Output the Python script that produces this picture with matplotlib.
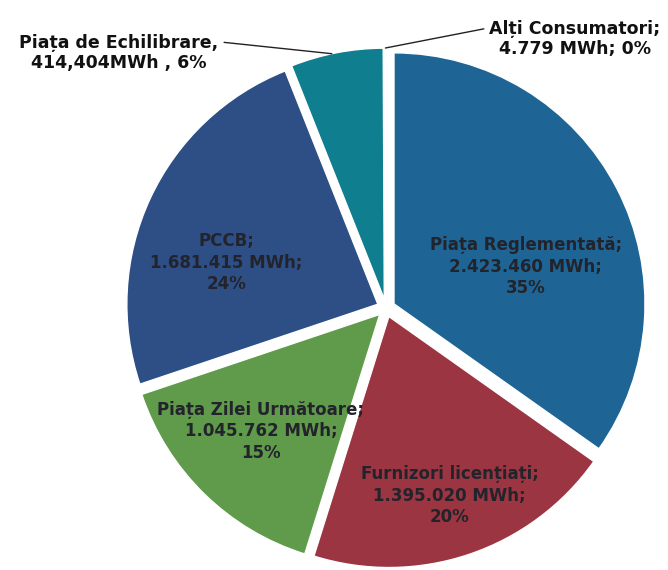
import numpy as np
import matplotlib
matplotlib.use("Agg")
import matplotlib.pyplot as plt

plt.rcParams['font.family'] = ['DejaVu Sans']

categories = ["Piața Reglementată", "Furnizori licențiați", "Piața Zilei Următoare",
              "PCCB", "Piața de Echilibrare", "Alți Consumatori"]
values_mwh = [2423460, 1395020, 1045762, 1681415, 414404, 4779]
labels = ["Piața Reglementată;\n2.423.460 MWh;\n35%",
          "Furnizori licențiați;\n1.395.020 MWh;\n20%",
          "Piața Zilei Următoare;\n1.045.762 MWh;\n15%",
          "PCCB;\n1.681.415 MWh;\n24%",
          "Piața de Echilibrare,\n414,404MWh , 6%",
          "Alți Consumatori;\n4.779 MWh; 0%"]
colors = ["#1e6595", "#9b3541", "#5f9b4b", "#2d4f86", "#0f7e8f", "#6a8fc0"]

W, H = 668, 570
fig = plt.figure(figsize=(W / 100, H / 100), dpi=100)
ax = fig.add_axes([0, 0, 1, 1])

cx, cy, R = 386, H - 308, 251
explode = [9] * len(values_mwh)
wedges, _ = ax.pie(values_mwh, colors=colors, startangle=90, counterclock=False,
                   explode=explode, center=(cx, cy), radius=R,
                   wedgeprops=dict(edgecolor='white', linewidth=1.0))
ax.set_xlim(0, W)
ax.set_ylim(0, H)
ax.set_aspect('equal')
ax.axis('off')

# inner label placement: radius fraction and angular shift from wedge middle
inner_frac = [0.58, 0.79, 0.70, 0.66]
inner_shift = [-11, 0, -1, 9]
for i in range(4):
    w = wedges[i]
    mid = np.deg2rad((w.theta1 + w.theta2) / 2 + inner_shift[i])
    x = cx + inner_frac[i] * R * np.cos(mid)
    y = cy + inner_frac[i] * R * np.sin(mid)
    ax.text(x, y, labels[i], ha='center', va='center', fontsize=12,
            fontweight='bold', color='#23232b', linespacing=1.25)

# outer labels
w = wedges[4]
ang = np.deg2rad(w.theta1 + 0.55 * (w.theta2 - w.theta1))
px, py = cx + (R + 9) * np.cos(ang), cy + (R + 9) * np.sin(ang)
ax.annotate(labels[4], xy=(px, py), xytext=(119, H - 53),
            ha='center', va='center', fontsize=12.5, fontweight='bold',
            color='#111111', linespacing=1.1,
            arrowprops=dict(arrowstyle='-', color='#222222', lw=1.0,
                            relpos=(1.0, 0.8), shrinkA=2, shrinkB=0))
w = wedges[5]
ang = np.deg2rad((w.theta1 + w.theta2) / 2)
px, py = cx + (R + 9) * np.cos(ang), cy + (R + 9) * np.sin(ang)
ax.annotate(labels[5], xy=(px, py), xytext=(575, H - 39),
            ha='center', va='center', fontsize=12.5, fontweight='bold',
            color='#111111', linespacing=1.1,
            arrowprops=dict(arrowstyle='-', color='#222222', lw=1.0,
                            relpos=(0.0, 0.8), shrinkA=2, shrinkB=0))

fig.savefig("out.png", dpi=100)
